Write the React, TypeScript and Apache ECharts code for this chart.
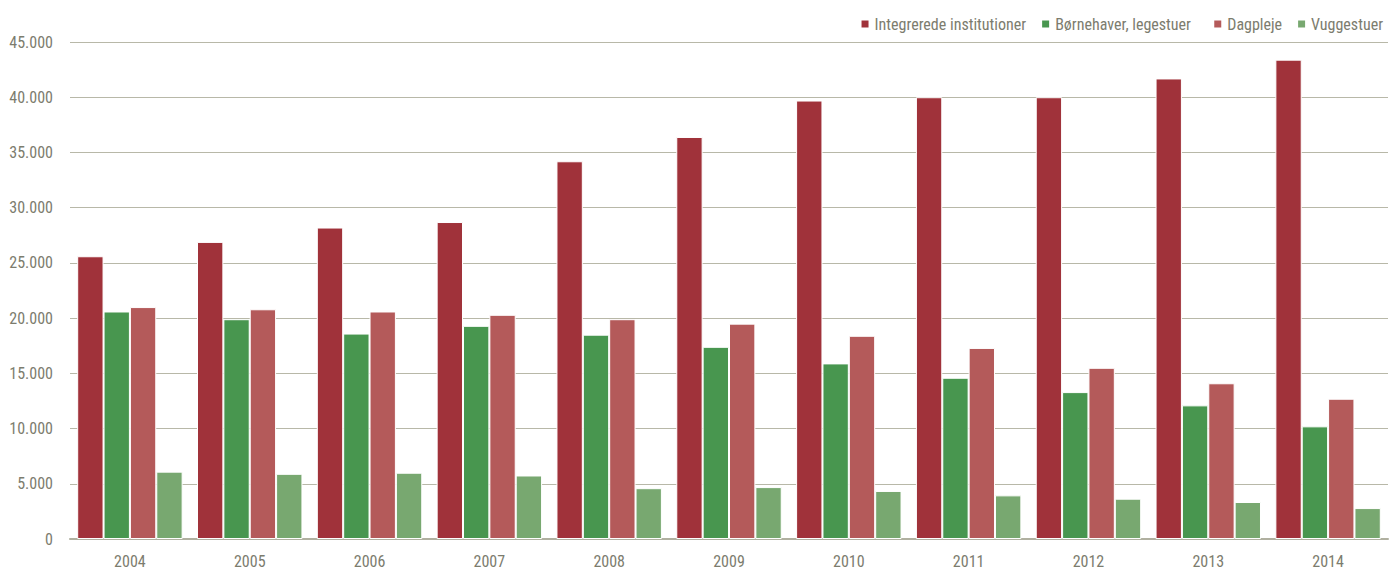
import React, { useEffect, useRef } from "react";
import * as echarts from "echarts";

const years = ["2004", "2005", "2006", "2007", "2008", "2009", "2010", "2011", "2012", "2013", "2014"];
const integrerede = [25600, 26900, 28200, 28700, 34200, 36400, 39700, 40000, 40000, 41700, 43400];
const boernehaver = [20600, 19900, 18600, 19300, 18500, 17400, 15900, 14600, 13300, 12100, 10200];
const dagpleje = [21000, 20800, 20600, 20300, 19900, 19500, 18400, 17300, 15500, 14100, 12700];
const vuggestuer = [6100, 5900, 6000, 5750, 4600, 4700, 4350, 3950, 3650, 3350, 2800];

const seriesNames = ["Integrerede institutioner", "Børnehaver, legestuer", "Dagpleje", "Vuggestuer"];
const colors = ["#A0323A", "#48964F", "#B45A5A", "#78A870"];

const FONT = "'Liberation Sans Narrow', 'Arial Narrow', 'Roboto Condensed', sans-serif";
const TEXT = "#7C7C6E";

export default function App() {
  const ref = useRef<HTMLDivElement>(null);
  useEffect(() => {
    if (!ref.current) return;
    const chart = echarts.init(ref.current, undefined, { renderer: "svg" });
    const data = [integrerede, boernehaver, dagpleje, vuggestuer];
    chart.setOption({
      animation: false,
      color: colors,
      textStyle: { fontFamily: FONT },
      grid: { left: 70, right: 2, top: 42, bottom: 29, containLabel: false },
      legend: {
        right: 2,
        top: 11,
        itemWidth: 9,
        itemHeight: 9,
        itemGap: 14,
        icon: "rect",
        textStyle: { color: TEXT, fontSize: 16, fontFamily: FONT },
        formatter: (name: string) => (name === seriesNames[1] ? name + "  " : name),
        data: seriesNames,
      },
      xAxis: {
        type: "category",
        data: years,
        axisLine: { show: true, lineStyle: { color: "#B0B0A0", width: 2 } },
        axisTick: { show: false },
        axisLabel: { color: TEXT, fontSize: 16, margin: 14, fontFamily: FONT },
      },
      yAxis: {
        type: "value",
        min: 0,
        max: 45000,
        interval: 5000,
        axisLine: { show: false },
        axisTick: { show: false },
        splitLine: { lineStyle: { color: "#B8B8A8", width: 1 } },
        axisLabel: {
          color: TEXT,
          fontSize: 16,
          margin: 17,
          fontFamily: FONT,
          formatter: (v: number) => v.toString().replace(/\B(?=(\d{3})+(?!\d))/g, "."),
        },
      },
      series: seriesNames.map((name, i) => ({
        name,
        type: "bar",
        data: data[i],
        barGap: "0%",
        barCategoryGap: "12%",
        itemStyle: { color: colors[i], borderColor: "#ffffff", borderWidth: 1 },
      })),
    });
    return () => chart.dispose();
  }, []);
  return (
    <div
      ref={ref}
      style={{ position: "fixed", left: 0, top: 0, width: 1390, height: 569, background: "#fff" }}
    />
  );
}
